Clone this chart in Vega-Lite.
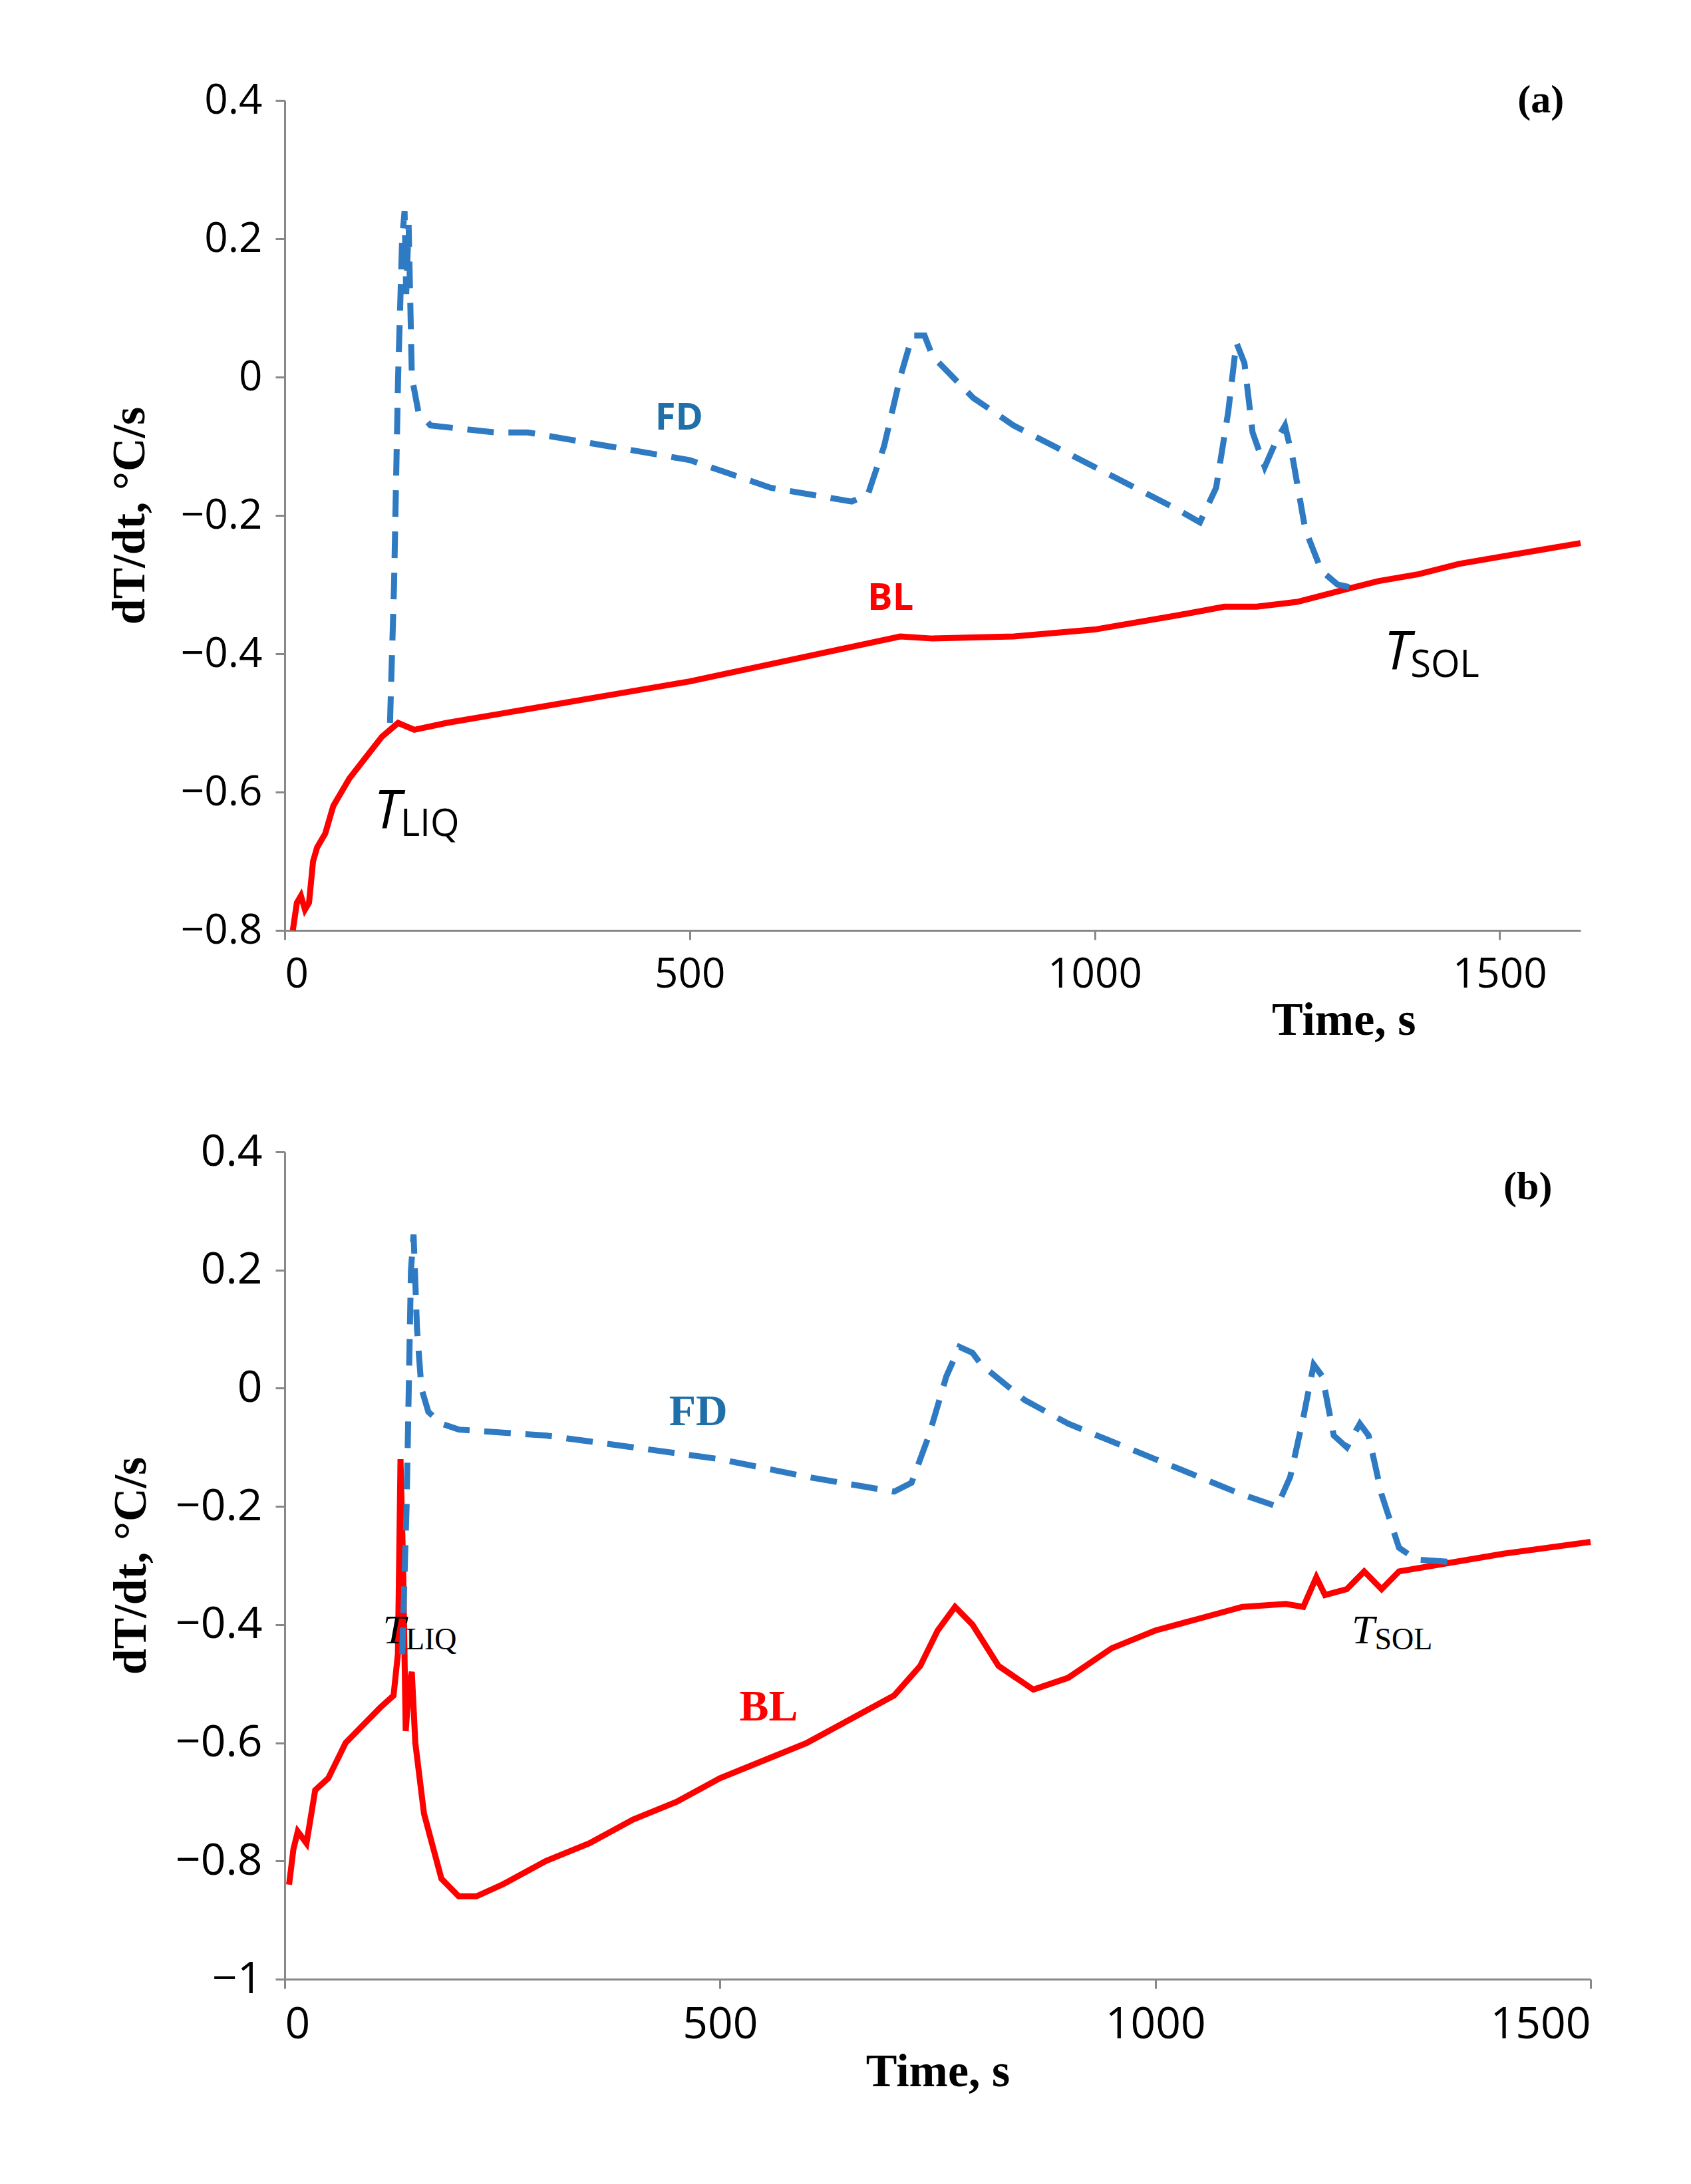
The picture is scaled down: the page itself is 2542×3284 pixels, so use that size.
{
"$schema":"https://vega.github.io/schema/vega-lite/v6.json",
"background":"white",
"padding":{"left":160,"top":120,"right":60,"bottom":40},
"spacing":130,
"config":{"view":{"stroke":null},
"axis":{"grid":false,"domainColor":"#888","tickColor":"#888","domainWidth":3,"tickWidth":3,"tickSize":14,"labelFont":"Open Sans","labelColor":"black","titleFont":"Liberation Serif","titleFontWeight":"bold","titleColor":"black"}},
"datasets":{
"a":[
{"p":"FD","t":130,"v":-0.5},{"p":"FD","t":135,"v":-0.3},{"p":"FD","t":140,"v":0.0},{"p":"FD","t":145,"v":0.2},{"p":"FD","t":148,"v":0.24},{"p":"FD","t":150,"v":0.12},{"p":"FD","t":153,"v":0.22},{"p":"FD","t":157,"v":0.0},{"p":"FD","t":165,"v":-0.05},{"p":"FD","t":180,"v":-0.07},{"p":"FD","t":220,"v":-0.075},{"p":"FD","t":260,"v":-0.08},{"p":"FD","t":300,"v":-0.08},{"p":"FD","t":350,"v":-0.09},{"p":"FD","t":400,"v":-0.1},{"p":"FD","t":450,"v":-0.11},{"p":"FD","t":500,"v":-0.12},{"p":"FD","t":550,"v":-0.14},{"p":"FD","t":600,"v":-0.16},{"p":"FD","t":650,"v":-0.17},{"p":"FD","t":700,"v":-0.18},{"p":"FD","t":720,"v":-0.17},{"p":"FD","t":740,"v":-0.1},{"p":"FD","t":760,"v":0.0},{"p":"FD","t":775,"v":0.06},{"p":"FD","t":790,"v":0.06},{"p":"FD","t":800,"v":0.03},{"p":"FD","t":850,"v":-0.03},{"p":"FD","t":900,"v":-0.07},{"p":"FD","t":950,"v":-0.1},{"p":"FD","t":1000,"v":-0.13},{"p":"FD","t":1050,"v":-0.16},{"p":"FD","t":1100,"v":-0.19},{"p":"FD","t":1130,"v":-0.21},{"p":"FD","t":1150,"v":-0.16},{"p":"FD","t":1165,"v":-0.05},{"p":"FD","t":1175,"v":0.05},{"p":"FD","t":1185,"v":0.02},{"p":"FD","t":1195,"v":-0.08},{"p":"FD","t":1210,"v":-0.13},{"p":"FD","t":1225,"v":-0.09},{"p":"FD","t":1235,"v":-0.07},{"p":"FD","t":1245,"v":-0.12},{"p":"FD","t":1260,"v":-0.22},{"p":"FD","t":1280,"v":-0.28},{"p":"FD","t":1300,"v":-0.3},{"p":"FD","t":1320,"v":-0.305},
{"p":"BL","t":10,"v":-0.8},{"p":"BL","t":15,"v":-0.76},{"p":"BL","t":20,"v":-0.75},{"p":"BL","t":25,"v":-0.77},{"p":"BL","t":30,"v":-0.76},{"p":"BL","t":35,"v":-0.7},{"p":"BL","t":40,"v":-0.68},{"p":"BL","t":50,"v":-0.66},{"p":"BL","t":60,"v":-0.62},{"p":"BL","t":70,"v":-0.6},{"p":"BL","t":80,"v":-0.58},{"p":"BL","t":100,"v":-0.55},{"p":"BL","t":120,"v":-0.52},{"p":"BL","t":140,"v":-0.5},{"p":"BL","t":160,"v":-0.51},{"p":"BL","t":200,"v":-0.5},{"p":"BL","t":300,"v":-0.48},{"p":"BL","t":400,"v":-0.46},{"p":"BL","t":500,"v":-0.44},{"p":"BL","t":600,"v":-0.415},{"p":"BL","t":700,"v":-0.39},{"p":"BL","t":760,"v":-0.375},{"p":"BL","t":800,"v":-0.378},{"p":"BL","t":900,"v":-0.375},{"p":"BL","t":1000,"v":-0.365},{"p":"BL","t":1100,"v":-0.345},{"p":"BL","t":1160,"v":-0.332},{"p":"BL","t":1200,"v":-0.332},{"p":"BL","t":1250,"v":-0.325},{"p":"BL","t":1300,"v":-0.31},{"p":"BL","t":1350,"v":-0.295},{"p":"BL","t":1400,"v":-0.285},{"p":"BL","t":1450,"v":-0.27},{"p":"BL","t":1500,"v":-0.26},{"p":"BL","t":1550,"v":-0.25},{"p":"BL","t":1600,"v":-0.24}
],
"b":[
{"p":"FD","t":135,"v":-0.45},{"p":"FD","t":140,"v":-0.2},{"p":"FD","t":145,"v":0.2},{"p":"FD","t":148,"v":0.26},{"p":"FD","t":152,"v":0.1},{"p":"FD","t":157,"v":0.0},{"p":"FD","t":165,"v":-0.04},{"p":"FD","t":180,"v":-0.06},{"p":"FD","t":200,"v":-0.07},{"p":"FD","t":300,"v":-0.08},{"p":"FD","t":400,"v":-0.1},{"p":"FD","t":500,"v":-0.12},{"p":"FD","t":600,"v":-0.15},{"p":"FD","t":700,"v":-0.175},{"p":"FD","t":720,"v":-0.16},{"p":"FD","t":740,"v":-0.08},{"p":"FD","t":760,"v":0.02},{"p":"FD","t":775,"v":0.07},{"p":"FD","t":790,"v":0.06},{"p":"FD","t":800,"v":0.04},{"p":"FD","t":850,"v":-0.02},{"p":"FD","t":900,"v":-0.06},{"p":"FD","t":1000,"v":-0.12},{"p":"FD","t":1100,"v":-0.18},{"p":"FD","t":1140,"v":-0.2},{"p":"FD","t":1155,"v":-0.15},{"p":"FD","t":1170,"v":-0.05},{"p":"FD","t":1182,"v":0.04},{"p":"FD","t":1192,"v":0.02},{"p":"FD","t":1205,"v":-0.08},{"p":"FD","t":1220,"v":-0.1},{"p":"FD","t":1235,"v":-0.06},{"p":"FD","t":1245,"v":-0.08},{"p":"FD","t":1260,"v":-0.18},{"p":"FD","t":1280,"v":-0.27},{"p":"FD","t":1300,"v":-0.29},{"p":"FD","t":1350,"v":-0.295},
{"p":"BL","t":5,"v":-0.84},{"p":"BL","t":10,"v":-0.78},{"p":"BL","t":15,"v":-0.75},{"p":"BL","t":25,"v":-0.77},{"p":"BL","t":35,"v":-0.68},{"p":"BL","t":50,"v":-0.66},{"p":"BL","t":70,"v":-0.6},{"p":"BL","t":90,"v":-0.57},{"p":"BL","t":110,"v":-0.54},{"p":"BL","t":125,"v":-0.52},{"p":"BL","t":130,"v":-0.45},{"p":"BL","t":133,"v":-0.12},{"p":"BL","t":136,"v":-0.3},{"p":"BL","t":139,"v":-0.58},{"p":"BL","t":143,"v":-0.5},{"p":"BL","t":146,"v":-0.48},{"p":"BL","t":150,"v":-0.6},{"p":"BL","t":160,"v":-0.72},{"p":"BL","t":180,"v":-0.83},{"p":"BL","t":200,"v":-0.86},{"p":"BL","t":220,"v":-0.86},{"p":"BL","t":250,"v":-0.84},{"p":"BL","t":300,"v":-0.8},{"p":"BL","t":350,"v":-0.77},{"p":"BL","t":400,"v":-0.73},{"p":"BL","t":450,"v":-0.7},{"p":"BL","t":500,"v":-0.66},{"p":"BL","t":550,"v":-0.63},{"p":"BL","t":600,"v":-0.6},{"p":"BL","t":650,"v":-0.56},{"p":"BL","t":700,"v":-0.52},{"p":"BL","t":730,"v":-0.47},{"p":"BL","t":750,"v":-0.41},{"p":"BL","t":770,"v":-0.37},{"p":"BL","t":790,"v":-0.4},{"p":"BL","t":820,"v":-0.47},{"p":"BL","t":860,"v":-0.51},{"p":"BL","t":900,"v":-0.49},{"p":"BL","t":950,"v":-0.44},{"p":"BL","t":1000,"v":-0.41},{"p":"BL","t":1050,"v":-0.39},{"p":"BL","t":1100,"v":-0.37},{"p":"BL","t":1150,"v":-0.365},{"p":"BL","t":1170,"v":-0.37},{"p":"BL","t":1185,"v":-0.32},{"p":"BL","t":1195,"v":-0.35},{"p":"BL","t":1220,"v":-0.34},{"p":"BL","t":1240,"v":-0.31},{"p":"BL","t":1260,"v":-0.34},{"p":"BL","t":1280,"v":-0.31},{"p":"BL","t":1320,"v":-0.3},{"p":"BL","t":1400,"v":-0.28},{"p":"BL","t":1500,"v":-0.26}
],
"la":[{"k":"FD","t":487,"v":-0.06,"c":"#1f6fa8"},{"k":"BL","t":748,"v":-0.32,"c":"red"}],
"lb":[{"k":"FD","t":475,"v":-0.04,"c":"#1f6fa8"},{"k":"BL","t":556,"v":-0.54,"c":"red"}],
"ta":[{"m":"T","s":"LIQ","t":143,"v":-0.63},{"m":"T","s":"SOL","t":1390,"v":-0.4}],
"tb":[{"m":"T","s":"LIQ","t":139,"v":-0.41},{"m":"T","s":"SOL","t":1252,"v":-0.41}],
"pa":[{"m":"(a)","t":1551,"v":0.4}],
"pb":[{"m":"(b)","t":1428,"v":0.34}]
},
"vconcat":[
{"width":1948,"height":1248,
"encoding":{"x":{"field":"t","type":"quantitative","scale":{"domain":[0,1600],"nice":false},"axis":{"values":[0,500,1000,1500],"format":"d","title":"Time, s","labelFontSize":62,"labelPadding":22,"titleFontSize":70,"titleAnchor":"end","titleX":1700,"titlePadding":4}},
"y":{"field":"v","type":"quantitative","scale":{"domain":[-0.8,0.4],"nice":false},"axis":{"values":[-0.8,-0.6,-0.4,-0.2,0,0.2,0.4],"format":".1~f","labelExpr":"replace(datum.label,'-','\u2212')","title":"dT/dt, °C/s","labelFontSize":62,"labelPadding":20,"titleFontSize":70,"titlePadding":40}}},
"layer":[
{"data":{"name":"a"},"transform":[{"filter":"datum.p=='BL'"}],"mark":{"type":"line","color":"red","strokeWidth":9}},
{"data":{"name":"a"},"transform":[{"filter":"datum.p=='FD'"}],"mark":{"type":"line","color":"#2e7bc4","strokeWidth":9,"strokeDash":[40,22]}},
{"data":{"name":"la"},"mark":{"type":"text","font":"Open Sans","fontWeight":"bold","fontSize":56},"encoding":{"text":{"field":"k"},"color":{"field":"c","type":"nominal","scale":null}}},
{"data":{"name":"ta"},"mark":{"type":"text","font":"Open Sans","fontStyle":"italic","fontSize":80,"align":"right"},"encoding":{"text":{"field":"m"}}},
{"data":{"name":"ta"},"mark":{"type":"text","font":"Open Sans","fontSize":56,"align":"left","dy":18},"encoding":{"text":{"field":"s"}}},
{"data":{"name":"pa"},"mark":{"type":"text","font":"Liberation Serif","fontWeight":"bold","fontSize":60},"encoding":{"text":{"field":"m"}}}
]},
{"width":1963,"height":1244,
"encoding":{"x":{"field":"t","type":"quantitative","scale":{"domain":[0,1500],"nice":false},"axis":{"values":[0,500,1000,1500],"format":"d","title":"Time, s","labelFontSize":66,"labelPadding":22,"titleFontSize":70,"titlePadding":4}},
"y":{"field":"v","type":"quantitative","scale":{"domain":[-1,0.4],"nice":false},"axis":{"values":[-1,-0.8,-0.6,-0.4,-0.2,0,0.2,0.4],"format":".1~f","labelExpr":"replace(datum.label,'-','\u2212')","title":"dT/dt, °C/s","labelFontSize":66,"labelPadding":20,"titleFontSize":70,"titlePadding":30}}},
"layer":[
{"data":{"name":"b"},"transform":[{"filter":"datum.p=='BL'"}],"mark":{"type":"line","color":"red","strokeWidth":9}},
{"data":{"name":"b"},"transform":[{"filter":"datum.p=='FD'"}],"mark":{"type":"line","color":"#2e7bc4","strokeWidth":9,"strokeDash":[40,22]}},
{"data":{"name":"lb"},"mark":{"type":"text","font":"Liberation Serif","fontWeight":"bold","fontSize":66},"encoding":{"text":{"field":"k"},"color":{"field":"c","type":"nominal","scale":null}}},
{"data":{"name":"tb"},"mark":{"type":"text","font":"Liberation Serif","fontStyle":"italic","fontSize":62,"align":"right"},"encoding":{"text":{"field":"m"}}},
{"data":{"name":"tb"},"mark":{"type":"text","font":"Liberation Serif","fontSize":46,"align":"left","dy":14},"encoding":{"text":{"field":"s"}}},
{"data":{"name":"pb"},"mark":{"type":"text","font":"Liberation Serif","fontWeight":"bold","fontSize":60},"encoding":{"text":{"field":"m"}}}
]}
]}
